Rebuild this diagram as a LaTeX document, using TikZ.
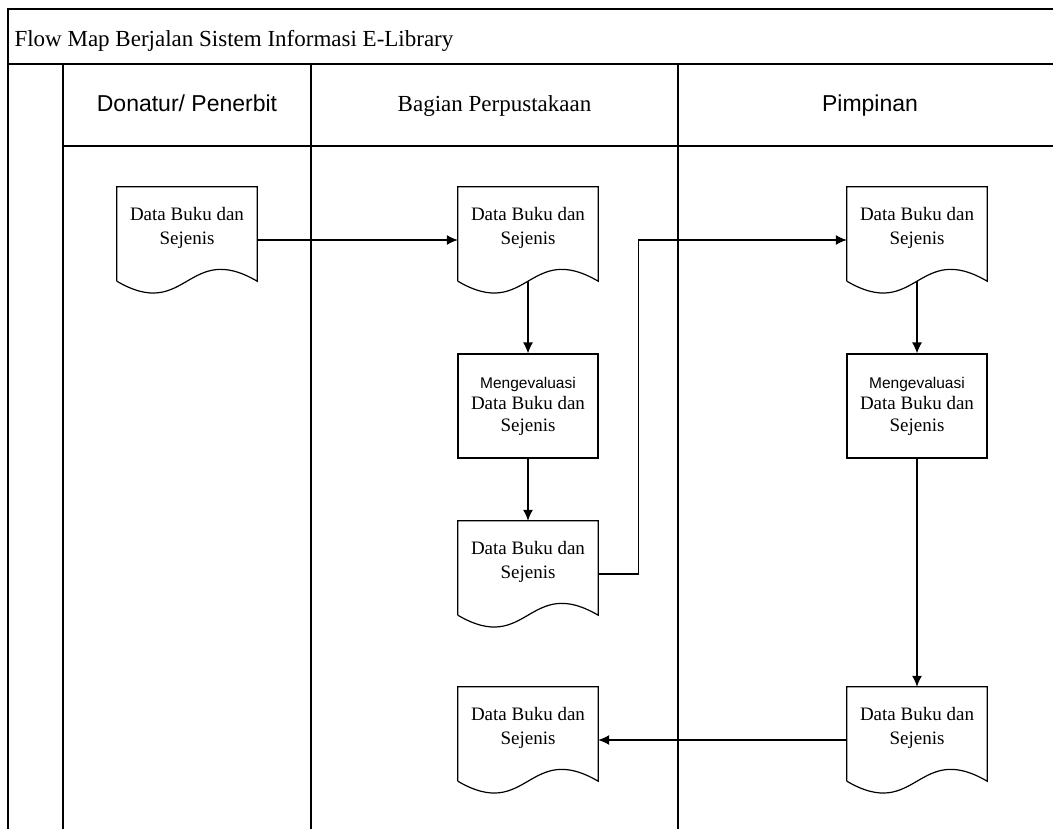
\documentclass[tikz,border=0pt]{standalone}
\usepackage{fontspec}
\usepackage{tikz}
\usetikzlibrary{arrows.meta}
\setmainfont{Liberation Serif}
\newfontfamily\arialfont{Liberation Sans}

\tikzset{
  frameline/.style={line width=1.5pt},
  shapeline/.style={line width=1.2pt},
  docnode/.style={minimum width=140pt, minimum height=82pt, inner sep=0pt, align=center, font=\fontsize{19}{24}\selectfont},
  procbox/.style={draw, shapeline, minimum width=140pt, minimum height=104pt, inner sep=0pt, align=center, font=\fontsize{19}{21.5}\selectfont},
  flowarrow/.style={shapeline, -{Latex[length=11pt,width=10pt]}},
  flowline/.style={shapeline}
}
\newcommand{\docshape}[1]{%
  \draw[shapeline] ([yshift=-12pt]#1.south west) -- (#1.north west) -- (#1.north east) -- ([yshift=-12pt]#1.south east)
    .. controls +(-70pt,41pt) and +(70pt,-41pt) .. ([yshift=-12pt]#1.south west);}

\begin{document}
\begin{tikzpicture}[x=1pt,y=-1pt]
        \useasboundingbox (0,0) rectangle (1053,829);

        \draw[frameline] (1053,9) -- (8,9) -- (8,829);
        \draw[frameline] (8,64) -- (1053,64);
        \draw[frameline] (63,64) -- (63,829);
        \draw[frameline] (63,146) -- (1053,146);
        \draw[frameline] (311,64) -- (311,829);
        \draw[frameline] (678,64) -- (678,829);

        \node[anchor=base west, font=\fontsize{23}{28}\selectfont] (title) at (11,47) {Flow Map Berjalan Sistem Informasi E-Library};
        \node[anchor=base, font=\arialfont\fontsize{23}{28}\selectfont] (lanedonatur) at (187,112) {Donatur/ Penerbit};
        \node[anchor=base, font=\fontsize{23}{28}\selectfont] (laneperpus) at (494.5,112) {Bagian Perpustakaan};
        \node[anchor=base, font=\arialfont\fontsize{23}{28}\selectfont] (lanepimpinan) at (870,112) {Pimpinan};

        \node[docnode] (d1) at (187,228) {Data Buku dan\\Sejenis};
        \node[docnode] (d2) at (528,228) {Data Buku dan\\Sejenis};
        \node[procbox] (p1) at (528,406) {{\arialfont\fontsize{15.5}{21.5}\selectfont Mengevaluasi}\\Data Buku dan\\Sejenis};
        \node[docnode] (d3) at (528,562) {Data Buku dan\\Sejenis};
        \node[docnode] (d4) at (917,228) {Data Buku dan\\Sejenis};
        \node[procbox] (p2) at (917,406) {{\arialfont\fontsize{15.5}{21.5}\selectfont Mengevaluasi}\\Data Buku dan\\Sejenis};
        \node[docnode] (d5) at (917,728) {Data Buku dan\\Sejenis};
        \node[docnode] (d6) at (528,728) {Data Buku dan\\Sejenis};

        \docshape{d1}
        \docshape{d2}
        \docshape{d3}
        \docshape{d4}
        \docshape{d5}
        \docshape{d6}

        \draw[flowarrow] ([yshift=-12pt]d1.east) -- ([yshift=-12pt]d2.west);
        \draw[flowarrow] ([yshift=-12pt]d2.south) -- (p1.north);
        \draw[flowarrow] (p1.south) -- (d3.north);
        \draw[flowarrow] ([yshift=-12pt]d3.east) -- ++(40pt,0pt) |- ([yshift=-12pt]d4.west);
        \draw[flowarrow] ([yshift=-12pt]d4.south) -- (p2.north);
        \draw[flowarrow] (p2.south) -- (d5.north);
        \draw[flowarrow] ([yshift=-12pt]d5.west) -- ([yshift=-12pt]d6.east);
    \end{tikzpicture}
\end{document}
